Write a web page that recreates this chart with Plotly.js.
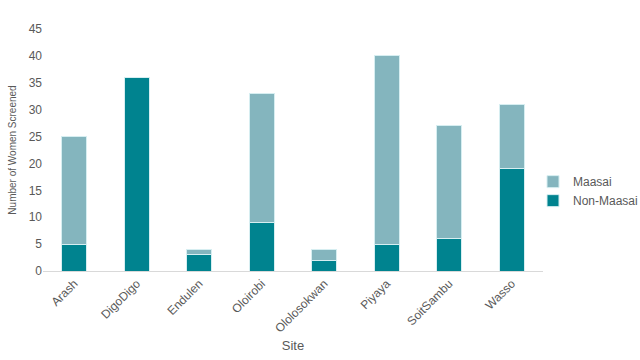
<!DOCTYPE html>
<html>
<head>
<meta charset="utf-8">
<script src="https://cdn.plot.ly/plotly-3.0.1.min.js"></script>
<style>html,body{margin:0;padding:0;background:#fff;}#chart{width:640px;height:360px;}</style>
</head>
<body>
<div id="chart"></div>
<script>
const sites = ["Arash", "DigoDigo", "Endulen", "Oloirobi", "Ololosokwan", "Piyaya", "SoitSambu", "Wasso"];
const nonMaasai = [5, 36, 3, 9, 2, 5, 6, 19];
const maasai = [20, 0, 1, 24, 2, 35, 21, 12];
const yTicks = [0, 5, 10, 15, 20, 25, 30, 35, 40, 45];

const traces = [
  {type: "bar", name: "Non-Maasai", x: sites, y: nonMaasai,
   marker: {color: "#00838f", line: {color: "#d6eef1", width: 1}}},
  {type: "bar", name: "Maasai", x: sites, y: maasai,
   marker: {color: "#84b5be", line: {color: "#d6eef1", width: 1}}}
];

const layout = {
  width: 640, height: 360,
  margin: {l: 43, r: 97, t: 29, b: 89, autoexpand: false},
  barmode: "stack",
  bargap: 0.6,
  paper_bgcolor: "#fff", plot_bgcolor: "#fff",
  font: {family: "Liberation Sans, Arial, sans-serif", color: "#595959", size: 12},
  showlegend: true,
  legend: {x: 0.98, xanchor: "left", y: 0.33, yanchor: "middle", bgcolor: "rgba(0,0,0,0)", font: {size: 12, color: "#595959"}, tracegroupgap: 4},
  xaxis: {
    tickangle: -45, showline: true, linecolor: "#d9d9d9", linewidth: 1,
    ticks: "", tickfont: {size: 12, color: "#595959"},
    title: {text: "Site", font: {size: 13, color: "#595959"}, standoff: 6},
    fixedrange: true
  },
  yaxis: {
    range: [0, 45], tickvals: yTicks, showgrid: false, zeroline: false,
    showline: false, ticks: "", tickfont: {size: 12, color: "#595959"},
    title: {text: "Number of Women Screened", font: {size: 10, color: "#595959"}, standoff: 10},
    fixedrange: true
  }
};
Plotly.newPlot("chart", traces, layout, {displayModeBar: false, staticPlot: true});
</script>
</body>
</html>
